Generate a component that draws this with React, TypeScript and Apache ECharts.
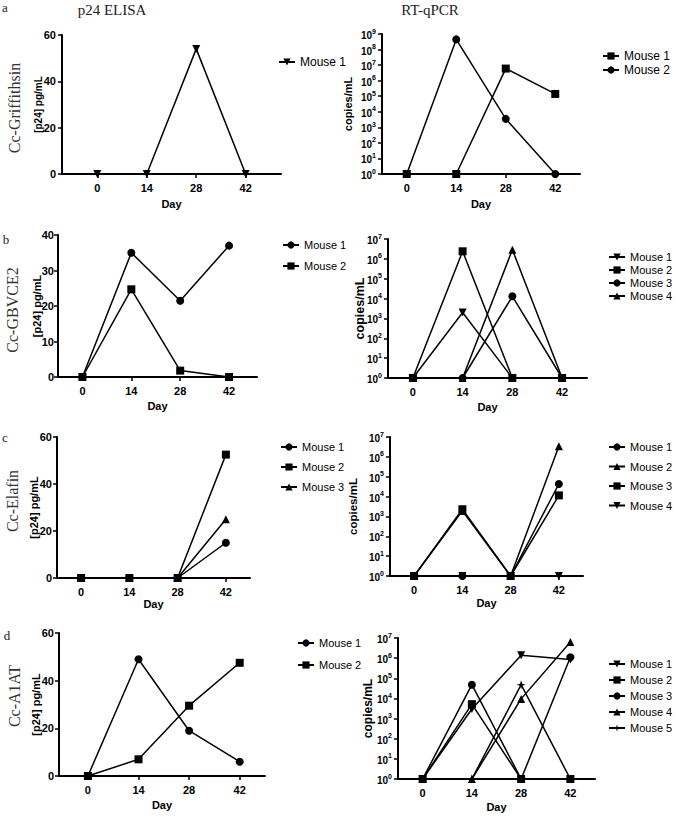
import React, { useEffect, useRef } from "react";
import * as echarts from "echarts";

const SANS = '"Liberation Sans", Arial, sans-serif';
const SERIF = '"Liberation Serif", "Times New Roman", serif';

// ---- data ----
const days = [0, 14, 28, 42];
const dayTicks = [0, 14, 28, 42];
const mouseLabels = ["Mouse 1", "Mouse 2", "Mouse 3", "Mouse 4", "Mouse 5"];

// a: Cc-Griffithsin
const aElisaMouse1 = [0, 0, 54, 0];
const aPcrMouse1 = [1, 1, 6e6, 1.4e5];
const aPcrMouse2 = [1, 4.5e8, 3.5e3, 1];
// b: Cc-GBVCE2
const bElisaMouse1 = [0, 35, 21.5, 37];
const bElisaMouse2 = [0, 24.7, 1.8, 0];
const bPcrMouse1 = [1, 2e3, 1, 1];
const bPcrMouse2 = [1, 2.4e6, 1, 1];
const bPcrMouse3 = [1, 1, 1.3e4, 1];
const bPcrMouse4 = [1, 1, 2.9e6, 1];
// c: Cc-Elafin
const cElisaMouse1 = [0, 0, 0, 15];
const cElisaMouse2 = [0, 0, 0, 52.5];
const cElisaMouse3 = [0, 0, 0, 25];
const cPcrMouse1 = [1, 1, 1, 4.3e4];
const cPcrMouse2 = [1, 1.9e3, 1, 3.4e6];
const cPcrMouse3 = [1, 2.3e3, 1, 1.15e4];
const cPcrMouse4 = [1, 1, 1, 1];
// d: Cc-A1AT
const dElisaMouse1 = [0, 49, 19, 6];
const dElisaMouse2 = [0, 7, 29.5, 47.5];
const dPcrMouse1 = [1, 3e3, 1.4e6, 8.5e5];
const dPcrMouse2 = [1, 5.2e3, 1, 1];
const dPcrMouse3 = [1, 4.8e4, 1, 1.1e6];
const dPcrMouse4 = [1, 1, 9.5e3, 6.3e6];
const dPcrMouse5 = [1, 1, 4.8e4, 1];

const rowLabels = ["Cc-Griffithsin", "Cc-GBVCE2", "Cc-Elafin", "Cc-A1AT"];
const rowLetters = ["a", "b", "c", "d"];
const columnTitles = ["p24 ELISA", "RT-qPCR"];
const elisaName = "[p24] pg/mL";
const pcrName = "copies/mL";
const xName = "Day";

// ---- symbols ----
const CIRCLE = "circle";
const SQUARE = "rect";
const TRI = "triangle";
const DOWN = "path://M0,0L10,0L5,9Z";
const STAR = "path://M5,0L6.2,3.8L10,5L6.2,6.2L5,10L3.8,6.2L0,5L3.8,3.8Z";

type Ser = { label: string; values: number[]; symbol: string };
type Panel = {
  key: string;
  grid: { left: number; top: number; width: number; height: number };
  xMin: number;
  xMax: number;
  log: boolean;
  yMax: number;
  yInterval: number;
  yName: string;
  yNameSize: number;
  yNameGap: number;
  yLabelMargin: number;
  xNameGap: number;
  legend: { left: number; top: number; gap: number; size: number };
  series: Ser[];
};

const panels: Panel[] = [
  {
    key: "aE",
    grid: { left: 62, top: 35, width: 219, height: 139 },
    xMin: -10, xMax: 52, log: false, yMax: 60, yInterval: 20,
    yName: elisaName, yNameSize: 10, yNameGap: 19, yLabelMargin: 6, xNameGap: 24,
    legend: { left: 278, top: 56, gap: 0, size: 12 },
    series: [{ label: mouseLabels[0], values: aElisaMouse1, symbol: DOWN }],
  },
  {
    key: "aP",
    grid: { left: 382, top: 34, width: 198, height: 140 },
    xMin: -7, xMax: 49, log: true, yMax: 1e9, yInterval: 1,
    yName: pcrName, yNameSize: 11, yNameGap: 29, yLabelMargin: 6, xNameGap: 24,
    legend: { left: 602, top: 50, gap: 2, size: 12 },
    series: [
      { label: mouseLabels[0], values: aPcrMouse1, symbol: SQUARE },
      { label: mouseLabels[1], values: aPcrMouse2, symbol: CIRCLE },
    ],
  },
  {
    key: "bE",
    grid: { left: 58, top: 235, width: 199, height: 142 },
    xMin: -7, xMax: 50, log: false, yMax: 40, yInterval: 10,
    yName: elisaName, yNameSize: 11, yNameGap: 16, yLabelMargin: 4, xNameGap: 23,
    legend: { left: 282, top: 239, gap: 9, size: 11 },
    series: [
      { label: mouseLabels[0], values: bElisaMouse1, symbol: CIRCLE },
      { label: mouseLabels[1], values: bElisaMouse2, symbol: SQUARE },
    ],
  },
  {
    key: "bP",
    grid: { left: 388, top: 239, width: 199, height: 139 },
    xMin: -7, xMax: 49, log: true, yMax: 1e7, yInterval: 1,
    yName: pcrName, yNameSize: 12.5, yNameGap: 22, yLabelMargin: 6, xNameGap: 23,
    legend: { left: 608, top: 251, gap: 1, size: 11 },
    series: [
      { label: mouseLabels[0], values: bPcrMouse1, symbol: DOWN },
      { label: mouseLabels[1], values: bPcrMouse2, symbol: SQUARE },
      { label: mouseLabels[2], values: bPcrMouse3, symbol: CIRCLE },
      { label: mouseLabels[3], values: bPcrMouse4, symbol: TRI },
    ],
  },
  {
    key: "cE",
    grid: { left: 57, top: 437, width: 193, height: 141 },
    xMin: -7, xMax: 49, log: false, yMax: 60, yInterval: 20,
    yName: elisaName, yNameSize: 11, yNameGap: 18, yLabelMargin: 5, xNameGap: 20,
    legend: { left: 280, top: 441, gap: 8, size: 11 },
    series: [
      { label: mouseLabels[0], values: cElisaMouse1, symbol: CIRCLE },
      { label: mouseLabels[1], values: cElisaMouse2, symbol: SQUARE },
      { label: mouseLabels[2], values: cElisaMouse3, symbol: TRI },
    ],
  },
  {
    key: "cP",
    grid: { left: 390, top: 437, width: 193, height: 139 },
    xMin: -7, xMax: 49, log: true, yMax: 1e7, yInterval: 1,
    yName: pcrName, yNameSize: 11.5, yNameGap: 31, yLabelMargin: 6, xNameGap: 21,
    legend: { left: 608, top: 441, gap: 7.5, size: 11 },
    series: [
      { label: mouseLabels[0], values: cPcrMouse1, symbol: CIRCLE },
      { label: mouseLabels[1], values: cPcrMouse2, symbol: TRI },
      { label: mouseLabels[2], values: cPcrMouse3, symbol: SQUARE },
      { label: mouseLabels[3], values: cPcrMouse4, symbol: DOWN },
    ],
  },
  {
    key: "dE",
    grid: { left: 59, top: 633, width: 206, height: 143 },
    xMin: -8, xMax: 49, log: false, yMax: 60, yInterval: 20,
    yName: elisaName, yNameSize: 11, yNameGap: 18, yLabelMargin: 5, xNameGap: 23,
    legend: { left: 297, top: 637, gap: 10, size: 11 },
    series: [
      { label: mouseLabels[0], values: dElisaMouse1, symbol: CIRCLE },
      { label: mouseLabels[1], values: dElisaMouse2, symbol: SQUARE },
    ],
  },
  {
    key: "dP",
    grid: { left: 398, top: 638, width: 197, height: 141 },
    xMin: -7, xMax: 49, log: true, yMax: 1e7, yInterval: 1,
    yName: pcrName, yNameSize: 12, yNameGap: 24, yLabelMargin: 6, xNameGap: 22,
    legend: { left: 608, top: 658, gap: 4, size: 11 },
    series: [
      { label: mouseLabels[0], values: dPcrMouse1, symbol: DOWN },
      { label: mouseLabels[1], values: dPcrMouse2, symbol: SQUARE },
      { label: mouseLabels[2], values: dPcrMouse3, symbol: CIRCLE },
      { label: mouseLabels[3], values: dPcrMouse4, symbol: TRI },
      { label: mouseLabels[4], values: dPcrMouse5, symbol: STAR },
    ],
  },
];

const rowLabelPos = [
  { x: 14, y: 108 },
  { x: 12, y: 310 },
  { x: 12, y: 501 },
  { x: 14, y: 696 },
];
const rowLetterPos = [
  { x: 5, y: 7 },
  { x: 6, y: 239 },
  { x: 5, y: 437 },
  { x: 7, y: 635 },
];
const titlePos = [
  { x: 112, y: 10 },
  { x: 430, y: 10 },
];

export default function App() {
  const ref = useRef<HTMLDivElement>(null);
  useEffect(() => {
    if (!ref.current) return;
    const chart = echarts.init(ref.current, null, { renderer: "svg" });
    const grid: any[] = [];
    const xAxis: any[] = [];
    const yAxis: any[] = [];
    const series: any[] = [];
    const legend: any[] = [];
    const axisLine = { show: true, onZero: false, lineStyle: { color: "#000", width: 2 } };
    const axisTick = { show: true, length: 4, lineStyle: { color: "#000", width: 1.5 } };

    panels.forEach((p, i) => {
      grid.push({ ...p.grid, containLabel: false, outerBoundsMode: "none" });
      xAxis.push({
        type: "value",
        gridIndex: i,
        min: p.xMin,
        max: p.xMax,
        name: xName,
        nameLocation: "middle",
        nameGap: p.xNameGap,
        nameMoveOverlap: false,
        nameTextStyle: { fontFamily: SANS, fontWeight: "bold", fontSize: 11, color: "#000" },
        axisLine,
        axisTick: { ...axisTick, customValues: dayTicks },
        axisLabel: {
          customValues: dayTicks,
          margin: 8,
          fontFamily: SANS,
          fontWeight: "bold",
          fontSize: 11,
          color: "#000",
        },
        splitLine: { show: false },
      });
      const yBase: any = {
        gridIndex: i,
        name: p.yName,
        nameLocation: "middle",
        nameGap: p.yNameGap,
        nameMoveOverlap: false,
        nameRotate: 90,
        nameTextStyle: { fontFamily: SANS, fontWeight: "bold", fontSize: p.yNameSize, color: "#000" },
        axisLine,
        axisTick,
        splitLine: { show: false },
      };
      if (p.log) {
        yAxis.push({
          ...yBase,
          type: "log",
          logBase: 10,
          min: 1,
          max: p.yMax,
          interval: p.yInterval,
          minorTick: { show: false },
          axisLabel: {
            margin: p.yLabelMargin,
            formatter: (v: number) => `{b|10}{s|${Math.round(Math.log10(v))}}`,
            rich: {
              b: { fontFamily: SANS, fontWeight: "bold", fontSize: 10, color: "#000", verticalAlign: "bottom", lineHeight: 13 },
              s: { fontFamily: SANS, fontWeight: "bold", fontSize: 7, color: "#000", verticalAlign: "top", lineHeight: 13 },
            },
          },
        });
      } else {
        yAxis.push({
          ...yBase,
          type: "value",
          min: 0,
          max: p.yMax,
          interval: p.yInterval,
          axisLabel: { margin: p.yLabelMargin, fontFamily: SANS, fontWeight: "bold", fontSize: 11, color: "#000" },
        });
      }
      const names: string[] = [];
      p.series.forEach((s) => {
        const name = `${p.key}|${s.label}`;
        names.push(name);
        series.push({
          type: "line",
          name,
          xAxisIndex: i,
          yAxisIndex: i,
          data: days.map((d, j) => [d, s.values[j]]),
          symbol: s.symbol,
          symbolSize: s.symbol === STAR ? 9 : 8,
          showAllSymbol: true,
          clip: false,
          lineStyle: { color: "#000", width: 1.5 },
          itemStyle: { color: "#000", borderWidth: 0 },
          emphasis: { disabled: true },
        });
      });
      legend.push({
        show: true,
        orient: "vertical",
        left: p.legend.left,
        top: p.legend.top,
        padding: 0,
        itemGap: p.legend.gap,
        itemWidth: 16,
        itemHeight: 9,
        selectedMode: false,
        data: names,
        formatter: (n: string) => n.split("|")[1],
        textStyle: { fontFamily: SANS, fontSize: p.legend.size, color: "#000", lineHeight: 12 },
      });
    });

    const graphic: any[] = [];
    rowLetters.forEach((t, i) => {
      graphic.push({
        type: "text",
        x: rowLetterPos[i].x,
        y: rowLetterPos[i].y,
        style: { text: t, fontFamily: SERIF, fontSize: 13, fill: "#222", align: "center", verticalAlign: "middle" },
      });
    });
    rowLabels.forEach((t, i) => {
      graphic.push({
        type: "text",
        x: rowLabelPos[i].x,
        y: rowLabelPos[i].y,
        rotation: Math.PI / 2,
        style: { text: t, fontFamily: SERIF, fontSize: 16, fill: "#333", align: "center", verticalAlign: "middle" },
      });
    });
    columnTitles.forEach((t, i) => {
      graphic.push({
        type: "text",
        x: titlePos[i].x,
        y: titlePos[i].y,
        style: { text: t, fontFamily: SERIF, fontSize: 15, fill: "#222", align: "center", verticalAlign: "middle" },
      });
    });

    chart.setOption({
      animation: false,
      backgroundColor: "#fff",
      textStyle: { fontFamily: SANS },
      grid,
      xAxis,
      yAxis,
      series,
      legend,
      graphic,
    });
    return () => chart.dispose();
  }, []);
  return <div ref={ref} style={{ position: "absolute", left: 0, top: 0, width: 676, height: 817 }} />;
}
